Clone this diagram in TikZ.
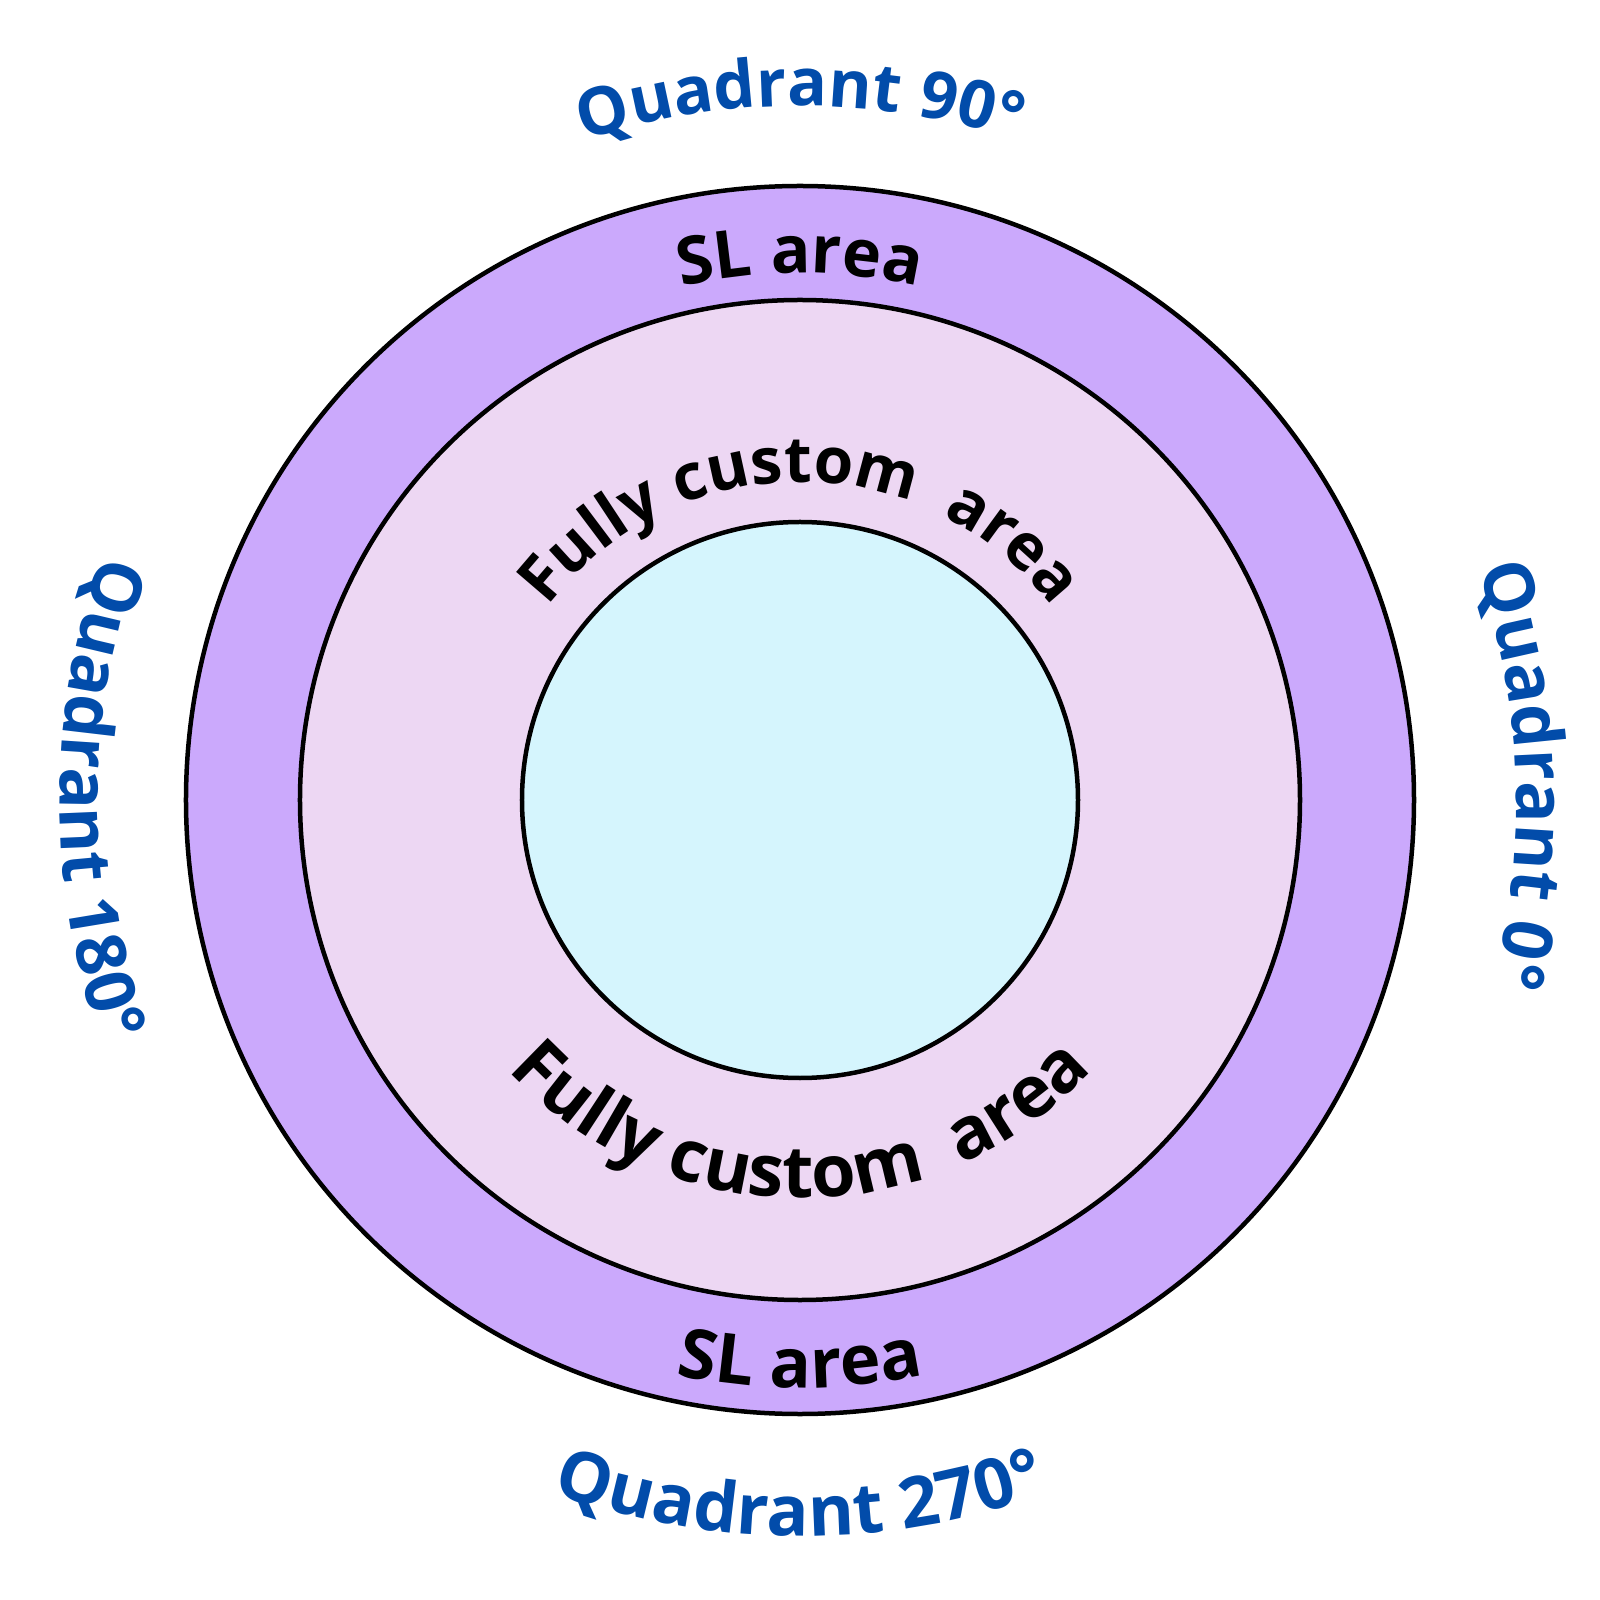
\documentclass[tikz,border=0pt]{standalone}
\usepackage{fontspec}
\setmainfont{Open Sans}
\usetikzlibrary{decorations.text}
\definecolor{ringpurple}{HTML}{CBA9FC}
\definecolor{ringpink}{HTML}{EDD7F3}
\definecolor{corecyan}{HTML}{D5F5FD}
\definecolor{qblue}{HTML}{024CAA}
\newcommand\qfont{\bfseries\fontsize{66}{70}\selectfont}
\newcommand\qfontlr{\bfseries\fontsize{69}{72}\selectfont}
\newcommand\qfontb{\bfseries\fontsize{70}{74}\selectfont}
\newcommand\slfont{\bfseries\fontsize{66}{70}\selectfont}
\newcommand\slfontb{\bfseries\fontsize{69}{72}\selectfont}
\newcommand\fcfonttop{\bfseries\fontsize{64}{68}\selectfont}
\newcommand\fcfontbot{\bfseries\fontsize{72}{76}\selectfont}
\begin{document}
\begin{tikzpicture}[x=1pt,y=1pt,
  ring/.style={line width=4.5pt, draw=black},
  arclabel/.style={decorate, decoration={text along path, text align=center}},
  bluelabel/.style={arclabel, decoration={text color=qblue}},
  blacklabel/.style={arclabel, decoration={text color=black}}]
\useasboundingbox (-800,-800) rectangle (800,800);
\fill[white] (-800,-800) rectangle (800,800);
% rings
\path[ring, fill=ringpurple] (0,0) circle[radius=614];
\path[ring, fill=ringpink] (0,0) circle[radius=500];
\path[ring, fill=corecyan] (0,0) circle[radius=278];
% quadrant labels
\path[bluelabel, decoration={text={|\qfont|Quadrant 90°}}]
  (150:694) arc[start angle=150, end angle=30, radius=694];
\path[bluelabel, decoration={text={|\qfontlr|Quadrant 0°}}]
  (62:716) arc[start angle=62, end angle=-58, radius=716];
\path[bluelabel, decoration={text={|\qfontb|Quadrant 270°}}]
  (210:736) arc[start angle=210, end angle=330, radius=736];
\path[bluelabel, decoration={text={|\qfontlr|Quadrant 180°}}]
  (120:740) arc[start angle=120, end angle=240, radius=740];
% SL area labels
\path[blacklabel, decoration={text={|\slfont|SL area}}]
  (150:527) arc[start angle=150, end angle=30, radius=527];
\path[blacklabel, decoration={text={|\slfontb|SL area}}]
  (210:588) arc[start angle=210, end angle=330, radius=588];
% fully custom labels
\path[blacklabel, decoration={text={|\fcfonttop|Fully custom{\ }{\ }area}}]
  (175:318) arc[start angle=175, end angle=5, radius=318];
\path[blacklabel, decoration={text={|\fcfontbot|Fully custom{\ }{\ }area}}]
  (185:398) arc[start angle=185, end angle=355, radius=398];
\end{tikzpicture}
\end{document}
